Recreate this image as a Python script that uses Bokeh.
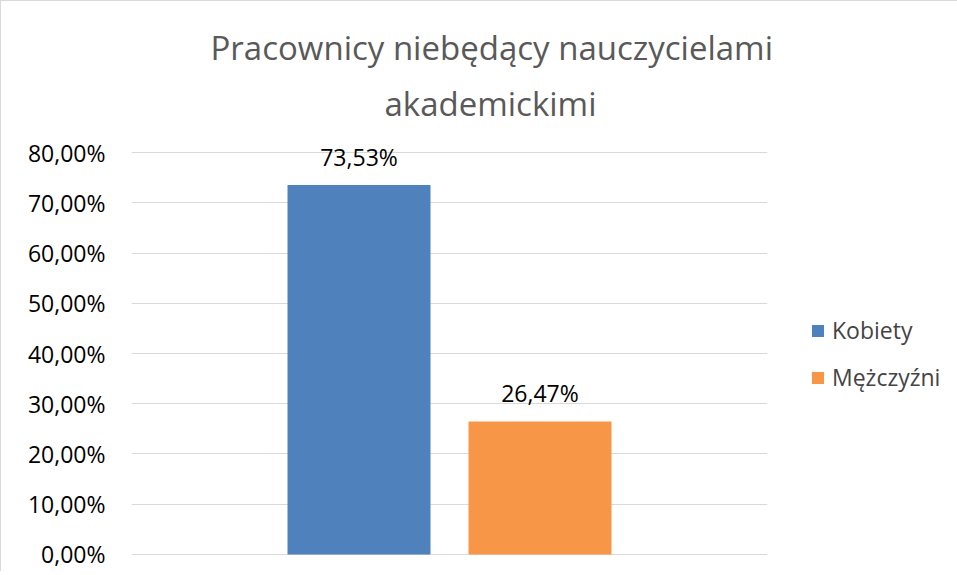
from bokeh.plotting import figure
from bokeh.models import FactorRange, Range1d, FixedTicker, Title, Legend, LegendItem, ColumnDataSource
from bokeh.core.properties import value
from bokeh.embed import file_html
from bokeh.resources import INLINE

title_lines = ["Pracownicy niebędący nauczycielami", "akademickimi"]
series = ["Kobiety", "Mężczyźni"]
values = [73.53, 26.47]
value_labels = ["73,53%", "26,47%"]
colors = ["#4F81BD", "#F79646"]
y_ticks = [0, 10, 20, 30, 40, 50, 60, 70, 80]
y_tick_labels = ["0,00%", "10,00%", "20,00%", "30,00%", "40,00%", "50,00%", "60,00%", "70,00%", "80,00%"]

FONT = "Open Sans"

source = ColumnDataSource(dict(series=series, values=values, labels=value_labels, colors=colors))

p = figure(frame_width=636, frame_height=412,
           x_range=FactorRange(factors=series, range_padding=0.757),
           y_range=Range1d(-1, 81), x_axis_location=None,
           output_backend="svg", toolbar_location=None,
           min_border_left=130, min_border_right=183, min_border_bottom=12, min_border_top=146)
p.title = None
p.outline_line_color = None
p.background_fill_color = "white"
p.border_fill_color = "white"
p.styles = {"border-top": "1px solid #d9d9d9", "border-left": "1px solid #d9d9d9"}

t2 = Title(text=title_lines[1], align="left", offset=253, standoff=44,
           text_font=FONT, text_font_size="33px", text_font_style="normal", text_color="#595959")
t1 = Title(text=title_lines[0], align="left", offset=79, standoff=-26,
           text_font=FONT, text_font_size="33px", text_font_style="normal", text_color="#595959")
p.add_layout(t2, "above")
p.add_layout(t1, "above")

r = p.vbar(x="series", top="values", width=0.79, color="colors", line_color=None, source=source)
p.text(x="series", y="values", text="labels", source=source, text_align="center", text_baseline="bottom",
       y_offset=-12, text_font=value(FONT), text_font_size="23px", text_color="#000000")

p.xgrid.visible = False
p.ygrid.grid_line_color = "#d9d9d9"
p.ygrid.grid_line_width = 1
p.yaxis.ticker = FixedTicker(ticks=y_ticks)
p.yaxis.major_label_overrides = {t: l for t, l in zip(y_ticks, y_tick_labels)}
p.yaxis.axis_line_color = None
p.yaxis.major_tick_line_color = None
p.yaxis.minor_tick_line_color = None
p.yaxis.major_label_standoff = 20
p.yaxis.major_label_text_font = FONT
p.yaxis.major_label_text_font_size = "23px"
p.yaxis.major_label_text_color = "#000000"

legend = Legend(items=[LegendItem(label=s, renderers=[r], index=i) for i, s in enumerate(series)],
                location=(43, 166), orientation="vertical", border_line_color=None,
                background_fill_alpha=0, padding=0, margin=0, glyph_width=15, glyph_height=15,
                label_text_font=FONT, label_text_font_size="23px", label_standoff=7, spacing=15)
p.add_layout(legend, "right")

open("out.html", "w").write(file_html(p, INLINE))
